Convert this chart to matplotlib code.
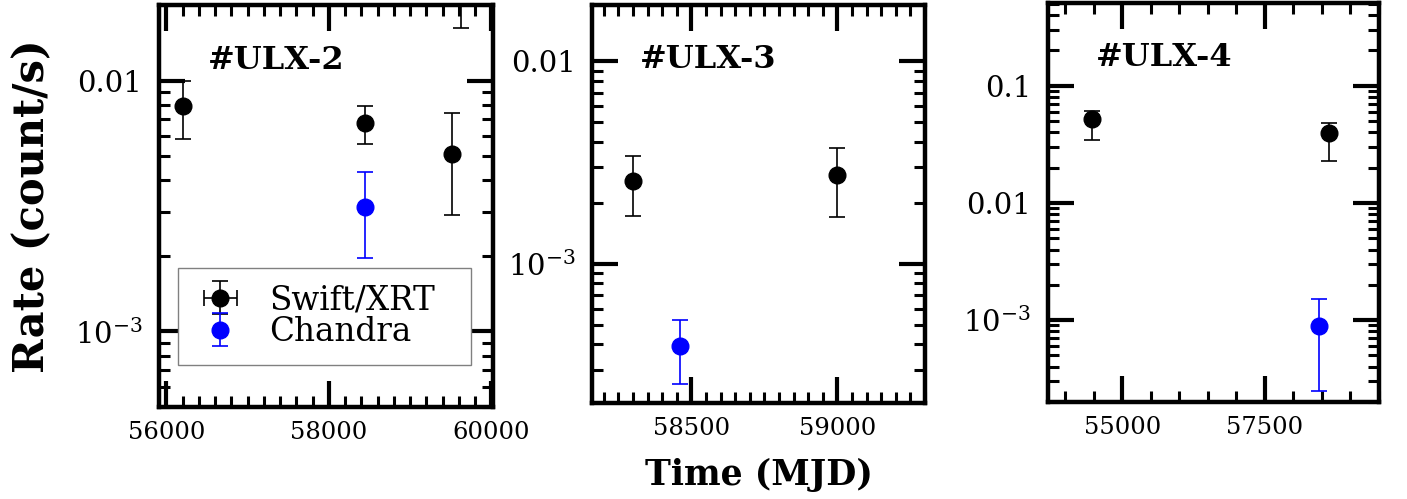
import matplotlib
matplotlib.use("Agg")
import matplotlib.pyplot as plt
import numpy as np
from matplotlib.ticker import MultipleLocator, LogLocator, NullFormatter, FuncFormatter

plt.rcParams['font.family'] = ['DejaVu Serif']
plt.rcParams['mathtext.fontset'] = 'dejavuserif'

# ---- data ----
titles = ["#ULX-2", "#ULX-3", "#ULX-4"]

# ULX-2
swift2_t = [56200, 58450, 59520, 59620]
swift2_r = [7.9e-3, 6.75e-3, 5.1e-3, 2.6e-2]
swift2_lo = [5.85e-3, 5.6e-3, 2.9e-3, 1.62e-2]
swift2_hi = [1.0e-2, 7.95e-3, 7.4e-3, 3.6e-2]
chandra2_t = [58450]
chandra2_r = [3.13e-3]
chandra2_lo = [1.97e-3]
chandra2_hi = [4.3e-3]

# ULX-3
swift3_t = [58300, 59000]
swift3_r = [2.55e-3, 2.73e-3]
swift3_lo = [1.73e-3, 1.71e-3]
swift3_hi = [3.4e-3, 3.75e-3]
chandra3_t = [58460]
chandra3_r = [3.9e-4]
chandra3_lo = [2.55e-4]
chandra3_hi = [5.3e-4]

# ULX-4
swift4_t = [54480, 58620]
swift4_r = [0.052, 0.0396]
swift4_lo = [0.0345, 0.0229]
swift4_hi = [0.061, 0.0483]
chandra4_t = [58450]
chandra4_r = [8.9e-4]
chandra4_lo = [2.47e-4]
chandra4_hi = [1.51e-3]

xlims = [(55910, 60020), (58160, 59300), (53700, 59500)]
ylims = [(5.0e-4, 2.0e-2), (2.05e-4, 1.9e-2), (2.0e-4, 0.51)]
xmajor = [2000, 500, 2500]
xminor = [200, 50, 500]

panels = [
    (swift2_t, swift2_r, swift2_lo, swift2_hi, chandra2_t, chandra2_r, chandra2_lo, chandra2_hi),
    (swift3_t, swift3_r, swift3_lo, swift3_hi, chandra3_t, chandra3_r, chandra3_lo, chandra3_hi),
    (swift4_t, swift4_r, swift4_lo, swift4_hi, chandra4_t, chandra4_r, chandra4_lo, chandra4_hi),
]

rects = [
    [0.113, 0.1844, 0.2374, 0.8056],
    [0.4208, 0.1924, 0.2367, 0.7976],
    [0.7448, 0.1944, 0.2353, 0.800],
]


def ylabel_fmt(v, pos):
    e = int(round(np.log10(v)))
    if e >= -2:
        return f"{v:.{-e}f}" if e < 0 else f"{v:g}"
    return r"$10^{%d}$" % e


fig = plt.figure(figsize=(14.07, 4.99), dpi=100)

for i, (st, sr, slo, shi, ct, cr, clo, chi) in enumerate(panels):
    ax = fig.add_axes(rects[i])
    s_err = [[r - l for r, l in zip(sr, slo)], [h - r for r, h in zip(sr, shi)]]
    c_err = [[r - l for r, l in zip(cr, clo)], [h - r for r, h in zip(cr, chi)]]
    ax.errorbar(st, sr, yerr=s_err, xerr=[0] * len(st), fmt='o', color='black',
                ms=12, elinewidth=1.2, capsize=6, capthick=1.2, label='Swift/XRT')
    ax.errorbar(ct, cr, yerr=c_err, fmt='o', color='blue',
                ms=12, elinewidth=1.2, capsize=6, capthick=1.2, label='Chandra')
    ax.set_yscale('log')
    ax.set_xlim(*xlims[i])
    ax.set_ylim(*ylims[i])
    ax.xaxis.set_major_locator(MultipleLocator(xmajor[i]))
    ax.xaxis.set_minor_locator(MultipleLocator(xminor[i]))
    ax.yaxis.set_major_locator(LogLocator(base=10, numticks=20))
    ax.yaxis.set_major_formatter(FuncFormatter(ylabel_fmt))
    ax.yaxis.set_minor_locator(LogLocator(base=10, subs=range(2, 10), numticks=50))
    ax.yaxis.set_minor_formatter(NullFormatter())
    ax.tick_params(which='both', direction='in', top=True, right=True)
    ax.tick_params(which='major', length=19, width=3)
    ax.tick_params(which='minor', length=8, width=2.2)
    ax.tick_params(axis='y', which='major', labelsize=21, pad=12)
    ax.tick_params(axis='x', which='major', labelsize=17.5, pad=10)
    for sp in ax.spines.values():
        sp.set_linewidth(3.2)
    ax.text(0.145, 0.862, titles[i], transform=ax.transAxes, fontsize=23,
            fontweight='bold', ha='left', va='center')
    if i == 0:
        ax.set_ylabel('Rate (count/s)', fontsize=30, fontweight='bold')
        ax.yaxis.set_label_coords(-0.315, 0.5)
        leg = ax.legend(loc='upper left', bbox_to_anchor=(0.057, 0.346, 0.877, 0.0),
                        mode='expand', fontsize=23.5, frameon=True, fancybox=False,
                        edgecolor='gray', framealpha=1, labelspacing=0.0,
                        handletextpad=0.7, borderpad=0.5, handlelength=1.6,
                        borderaxespad=0)
        leg.get_frame().set_linewidth(1.0)
    if i == 1:
        ax.set_xlabel('Time (MJD)', fontsize=25, fontweight='bold', labelpad=13)

fig.savefig('out.png', dpi=100)
